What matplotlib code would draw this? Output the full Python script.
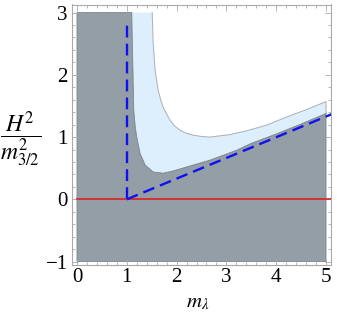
import numpy as np
import matplotlib
matplotlib.use("Agg")
import matplotlib.pyplot as plt
from matplotlib.ticker import MultipleLocator

plt.rcParams['mathtext.fontset'] = 'stix'
plt.rcParams['font.family'] = ['Liberation Serif', 'DejaVu Serif']

# Data
region_x = [0.0, 5.0]
region_y = [-1.0, 3.0]

lower_x = [1.10, 1.11, 1.12, 1.14, 1.17, 1.20, 1.27, 1.37, 1.53, 1.73, 1.95, 2.20, 2.67, 3.21, 3.5, 4.0, 4.5, 5.0]
lower_y = [3.0, 2.6, 2.23, 1.43, 1.17, 1.0, 0.73, 0.55, 0.44, 0.42, 0.46, 0.52, 0.63, 0.79, 0.90, 1.05, 1.21, 1.38]

upper_x = [1.51, 1.53, 1.57, 1.63, 1.68, 1.73, 1.80, 1.87, 1.96, 2.07, 2.20, 2.34, 2.50, 2.67, 3.07, 3.4, 3.8, 4.2, 4.6, 5.0]
upper_y = [3.0, 2.5, 2.07, 1.75, 1.60, 1.48, 1.37, 1.27, 1.18, 1.11, 1.06, 1.03, 1.01, 1.00, 1.04, 1.10, 1.19, 1.32, 1.44, 1.57]

vert_dash_x = [1.0, 1.0]
vert_dash_y = [0.0, 2.88]
diag_dash_x = [1.0, 5.12]
diag_dash_y = [0.0, 1.37]

red_x = [0.0, 5.12]
red_y = [0.0, 0.0]

xticks = [0, 1, 2, 3, 4, 5]
yticks = [-1, 0, 1, 2, 3]

fig = plt.figure(figsize=(3.37, 3.16), dpi=100)
ax = fig.add_axes([72/337, 1-265/316, 259/337, 260.5/316])

gray = '#939ea7'
blue_fill = '#ddeefc'
edge = '#7f878f'

# gray region polygon: rectangle minus area above the lower curve
gx = [region_x[0], region_x[1], region_x[1]] + lower_x[::-1] + [region_x[0]]
gy = [region_y[0], region_y[0], lower_y[-1]] + lower_y[::-1] + [region_y[1]]
ax.fill(gx, gy, facecolor=gray, edgecolor=edge, linewidth=0.6, zorder=1)

# light-blue region between lower and upper curves
bx = lower_x + upper_x[::-1]
by = lower_y + upper_y[::-1]
ax.fill(bx, by, facecolor=blue_fill, edgecolor='none', zorder=1)
ax.plot(upper_x + [upper_x[-1]], upper_y + [lower_y[-1]], color='#a9b0b6', lw=0.7, zorder=2)
ax.plot(lower_x, lower_y, color=edge, lw=0.6, zorder=2)

ax.plot(red_x, red_y, color='#dd2222', lw=1.2, zorder=3)
ax.plot(vert_dash_x, vert_dash_y, color='#1010f0', lw=1.7, dashes=(5, 2.6), zorder=4)
ax.plot(diag_dash_x, diag_dash_y, color='#1010f0', lw=1.7, dashes=(5, 2.6), zorder=4)

ax.set_xlim(-0.10, 5.10)
ax.set_ylim(-1.055, 3.13)
ax.set_xticks(xticks)
ax.set_yticks(yticks)
ax.set_yticklabels(['\u22121', '0', '1', '2', '3'])
ax.xaxis.set_minor_locator(MultipleLocator(0.2))
ax.yaxis.set_minor_locator(MultipleLocator(0.2))
ax.tick_params(which='both', direction='in', top=True, right=True, color='#aaaaaa', labelsize=15, width=0.6)
ax.tick_params(which='major', length=4)
ax.tick_params(which='minor', length=2.2)
ax.tick_params(axis='x', pad=2)
ax.tick_params(axis='y', pad=3)
for s in ax.spines.values():
    s.set_color('#aaaaaa')
    s.set_linewidth(0.8)

fig.text(198/337, 1-303/316, r'$m_\lambda$', ha='center', va='center', fontsize=15)
fig.text(21/337, 1-139/316, r'$\dfrac{H^2}{m_{3/2}^2}$', ha='center', va='center', fontsize=17)

fig.savefig('out.png', dpi=100)
